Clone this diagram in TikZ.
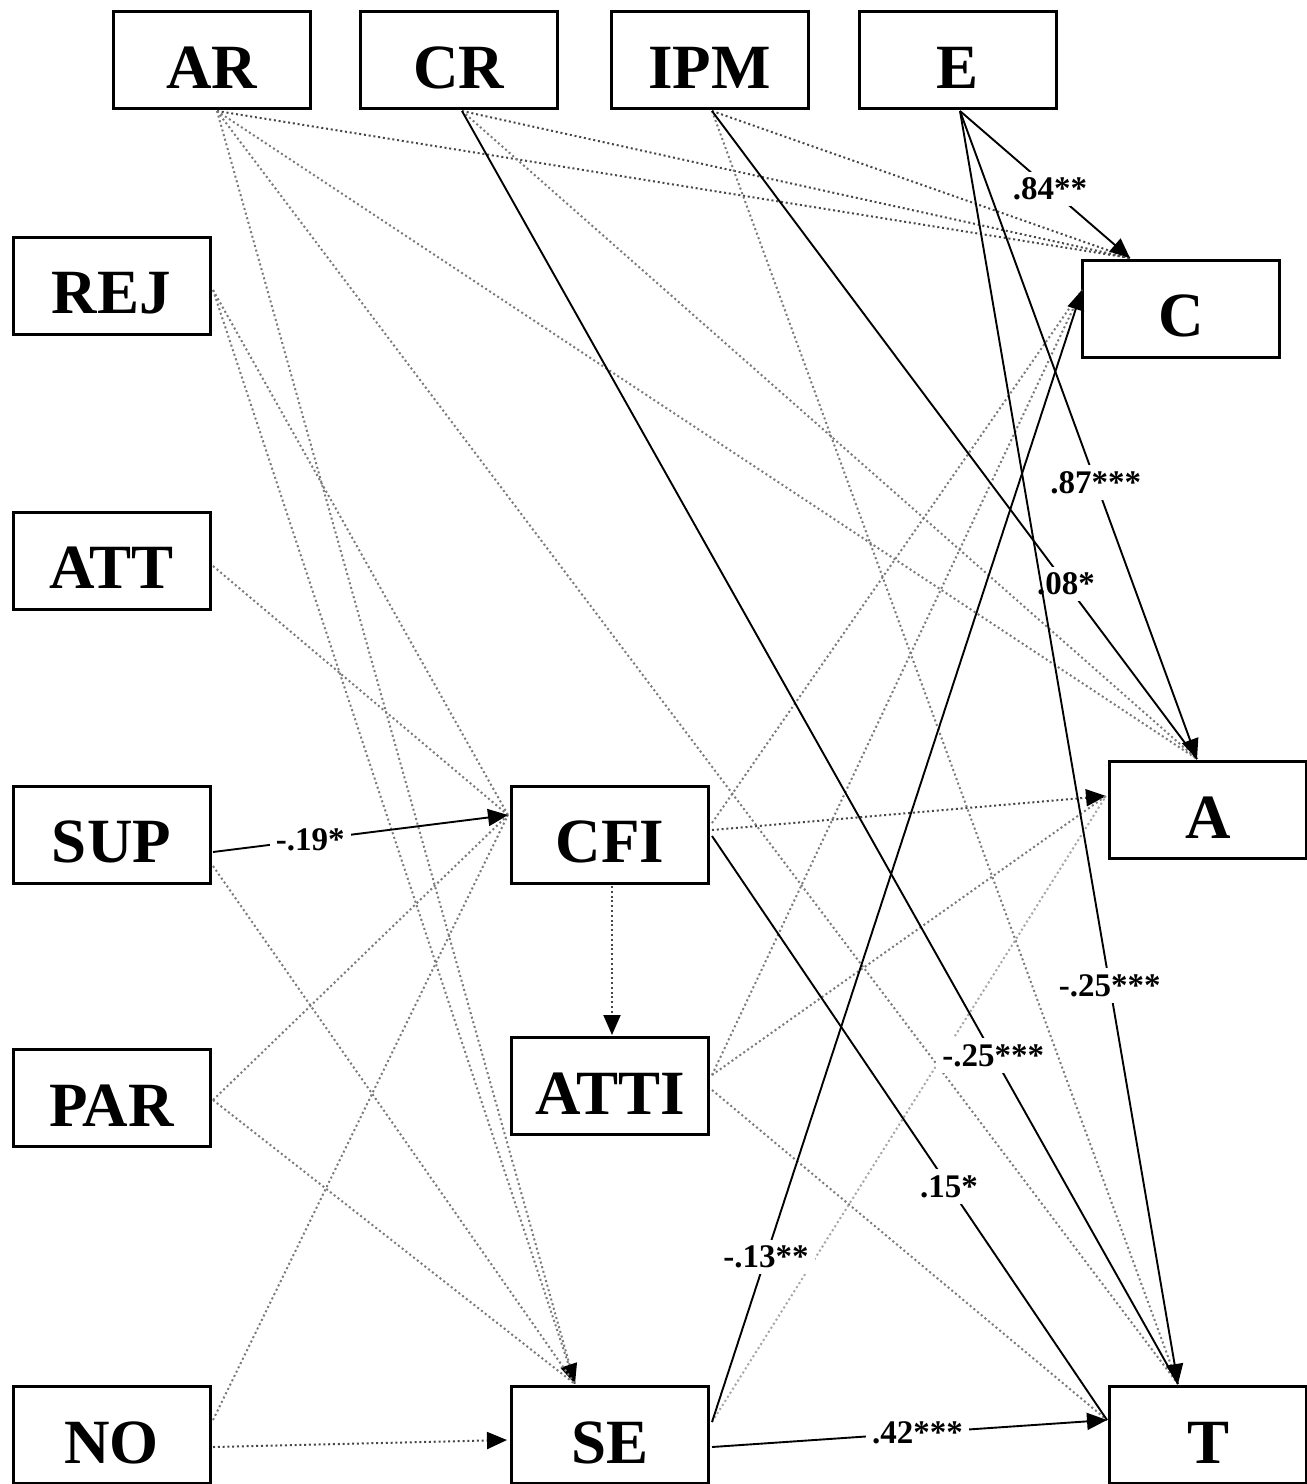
\documentclass[tikz,border=0pt]{standalone}
\usepackage{fontspec}
\setmainfont{Liberation Serif}
\usetikzlibrary{arrows.meta}
\begin{document}
\begin{tikzpicture}[x=1pt,y=-1pt,
 box/.style={draw, line width=3pt, fill=white, minimum width=197pt, minimum height=97pt, inner sep=0pt, text height=56pt, text depth=0pt, font=\fontsize{63}{63}\selectfont\bfseries},
 sol/.style={draw=black, line width=1.9pt},
 dot/.style={draw=black!52, line width=2pt, dash pattern=on 2pt off 2.8pt},
 dotd/.style={dot, draw=black!72},
 tip/.style={-{Triangle[length=20pt,width=17pt,color=black]}},
 lbl/.style={fill=white, inner sep=6pt, font=\fontsize{33}{33}\selectfont\bfseries}]
\useasboundingbox (0,0) rectangle (1307,1484);
\clip (0,0) rectangle (1307,1484);
\fill[white] (0,0) rectangle (1307,1484);

% boxes
\node[box] (AR)   at (211.5,60)   {AR};
\node[box] (CR)   at (459,60)     {CR};
\node[box] (IPM)  at (709.5,60)   {IPM};
\node[box] (E)    at (957.5,60)   {E};
\node[box] (REJ)  at (111.5,285.5){REJ};
\node[box] (ATT)  at (111.5,560.5){ATT};
\node[box] (SUP)  at (111.5,834.5){SUP};
\node[box] (PAR)  at (111.5,1098) {PAR};
\node[box] (NO)   at (111.5,1435) {NO};
\node[box] (CFI)  at (610,834.5)  {CFI};
\node[box] (ATTI) at (610,1086)   {ATTI};
\node[box] (SE)   at (610,1435)   {SE};
\node[box] (C)    at (1181,308.5) {C};
\node[box] (A)    at (1208,810)   {A};
\node[box] (T)    at (1208,1435)  {T};

% ports
\coordinate (ARs)   at (217,111);
\coordinate (CRs)   at (462,111);
\coordinate (IPMs)  at (712,111);
\coordinate (Es)    at (960,111);
\coordinate (REJr)  at (213,290);
\coordinate (ATTr)  at (213,566);
\coordinate (SUPr)  at (213,852);
\coordinate (SUPr2) at (213,866);
\coordinate (PARr)  at (213,1100);
\coordinate (NOr)   at (213,1420);
\coordinate (NOr2)  at (213,1447);
\coordinate (CFIl)  at (508,815);
\coordinate (CFIr1) at (712,823);
\coordinate (CFIr2) at (712,830);
\coordinate (CFIr3) at (712,836);
\coordinate (CFIb)  at (612,886);
\coordinate (ATTIt) at (612,1035);
\coordinate (ATTIr1) at (712,1075);
\coordinate (ATTIr2) at (712,1090);
\coordinate (SEt)   at (575,1384);
\coordinate (SEl)   at (507,1440);
\coordinate (SEr1)  at (712,1422);
\coordinate (SEr2)  at (712,1447);
\coordinate (Ct)    at (1130,258);
\coordinate (Cl)    at (1082,290);
\coordinate (At)    at (1197,759);
\coordinate (Al)    at (1106,796);
\coordinate (Tt)    at (1178,1384);
\coordinate (Tl)    at (1107,1420);

% dotted (non-significant) paths
\draw[dotd] (ARs) -- (Ct);
\draw[dotd] (CRs) -- (Ct);
\draw[dotd] (IPMs) -- (Ct);
\draw[dot] (ARs) -- (At);
\draw[dot] (CRs) -- (At);
\draw[dot] (ARs) -- (Tt);
\draw[dot] (IPMs) -- (Tt);
\draw[dot] (ARs) -- (SEt);
\draw[dot,tip] (REJr) -- (SEt);
\draw[dot] (SUPr2) -- (SEt);
\draw[dot] (PARr) -- (SEt);
\draw[dot] (REJr) -- (CFIl);
\draw[dot] (ATTr) -- (CFIl);
\draw[dot] (PARr) -- (CFIl);
\draw[dot] (NOr) -- (CFIl);
\draw[dotd,tip] (NOr2) -- (SEl);
\draw[dotd,tip] (CFIb) -- (ATTIt);
\draw[dot] (CFIr1) -- (Cl);
\draw[dotd,tip] (CFIr2) -- (Al);
\draw[dot] (ATTIr1) -- (Cl);
\draw[dot] (ATTIr1) -- (Al);
\draw[dot] (ATTIr2) -- (Tl);
\draw[dot,draw=black!35] (SEr1) -- (Al);

% significant paths
\draw[sol] (IPMs) -- node[lbl,pos=.73]{.08*} (At);
\draw[sol] (CRs) -- node[lbl,pos=.742]{-.25***} (Tt);
\draw[sol] (CFIr3) -- node[lbl,pos=.6]{.15*} (Tl);
\draw[sol,tip] (Es) -- node[lbl,pos=.53]{.84**} (Ct);
\draw[sol,tip] (Es) -- node[lbl,pos=.573]{.87***} (At);
\draw[sol,tip] (Es) -- node[lbl,pos=.687]{-.25***} (Tt);
\draw[sol,tip] (SUPr) -- node[lbl,pos=.33]{-.19*} (CFIl);
\draw[sol,tip] (SEr1) -- node[lbl,pos=.146]{-.13**} (Cl);
\draw[sol,tip] (SEr2) -- node[lbl,pos=.52]{.42***} (Tl);
\end{tikzpicture}
\end{document}
